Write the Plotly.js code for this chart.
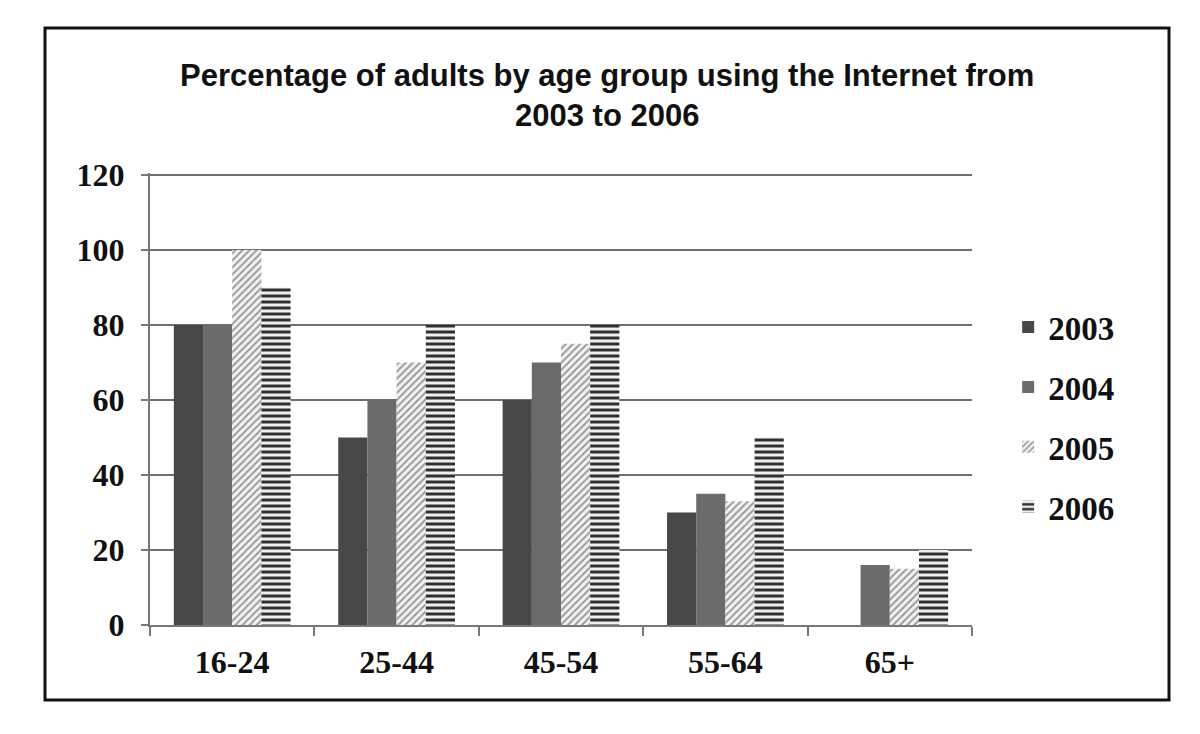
<!DOCTYPE html>
<html>
<head>
<meta charset="utf-8">
<script src="https://cdn.plot.ly/plotly-3.0.1.min.js"></script>
<style>
  html, body { margin: 0; padding: 0; background: #fff; }
  #chart { width: 1200px; height: 734px; }
</style>
</head>
<body>
<div id="chart"></div>
<script>
const categories = ["16-24", "25-44", "45-54", "55-64", "65+"];
const years = ["2003", "2004", "2005", "2006"];
const v2003 = [80, 50, 60, 30, 0];
const v2004 = [80, 60, 70, 35, 16];
const v2005 = [100, 70, 75, 33, 15];
const v2006 = [90, 80, 80, 50, 20];
const yTicks = [0, 20, 40, 60, 80, 100, 120];

const series = [v2003, v2004, v2005, v2006];
const styles = [
  { color: "#474747", pattern: { shape: "" } },
  { color: "#6b6b6b", pattern: { shape: "" } },
  { color: "#f2f2f2", pattern: { shape: "/", fgcolor: "#9a9a9a", bgcolor: "#f2f2f2", size: 5, solidity: 0.4 } },
  { color: "#f0f0f0", pattern: { shape: "-", fgcolor: "#2f2f2f", bgcolor: "#f0f0f0", size: 6, solidity: 0.5 } }
];

const traces = series.map((vals, i) => ({
  type: "bar",
  name: years[i],
  x: categories,
  y: vals,
  legendgroup: "g" + i,
  marker: {
    color: styles[i].color,
    pattern: styles[i].pattern,
    line: { width: 0 }
  }
}));

const tickFont = { family: "Liberation Serif, DejaVu Serif, serif", size: 32, color: "#111" };

const layout = {
  width: 1200,
  height: 734,
  paper_bgcolor: "#ffffff",
  plot_bgcolor: "#ffffff",
  margin: { l: 150, r: 228, t: 173, b: 109 },
  barmode: "group",
  bargap: 0.29,
  bargroupgap: 0,
  showlegend: true,
  title: {
    text: "<b>Percentage of adults by age group using the Internet from<br>2003 to 2006</b>",
    font: { family: "Liberation Sans, Arial, sans-serif", size: 31, color: "#111" },
    x: 0.506,
    xanchor: "center",
    y: 1 - 86 / 734,
    yanchor: "top",
    yref: "container"
  },
  xaxis: {
    type: "category",
    tickson: "boundaries",
    ticks: "outside",
    ticklen: 9,
    tickwidth: 2,
    tickcolor: "#777",
    showline: true,
    linecolor: "#777",
    linewidth: 2,
    showgrid: false,
    tickfont: tickFont,
    tickprefix: "<b>",
    ticksuffix: "</b>",
    ticklabelstandoff: 8,
    fixedrange: true
  },
  yaxis: {
    range: [0, 120.5],
    tickvals: yTicks,
    ticktext: yTicks.map(v => "<b>" + v + "</b>"),
    ticks: "outside",
    ticklen: 7,
    tickwidth: 2,
    tickcolor: "#777",
    showline: true,
    linecolor: "#777",
    linewidth: 2,
    showgrid: true,
    gridcolor: "#6f6f6f",
    gridwidth: 2.5,
    zeroline: false,
    tickfont: tickFont,
    ticklabelstandoff: 10,
    fixedrange: true
  },
  legend: {
    x: 1.044,
    xanchor: "left",
    y: 0.46,
    yanchor: "middle",
    traceorder: "grouped",
    tracegroupgap: 14,
    font: { family: "Liberation Serif, DejaVu Serif, serif", size: 33, color: "#111", weight: "bold" },
    bgcolor: "rgba(0,0,0,0)",
    itemwidth: 30
  },
  shapes: [{
    type: "rect",
    xref: "paper", yref: "paper",
    x0: (45 - 150) / 822, x1: (1169 - 150) / 822,
    y0: (625 - 700) / 452, y1: (625 - 28) / 452,
    line: { color: "#111", width: 3 },
    fillcolor: "rgba(0,0,0,0)",
    layer: "below"
  }]
};

Plotly.newPlot("chart", traces, layout, { displayModeBar: false, staticPlot: true });
</script>
</body>
</html>
